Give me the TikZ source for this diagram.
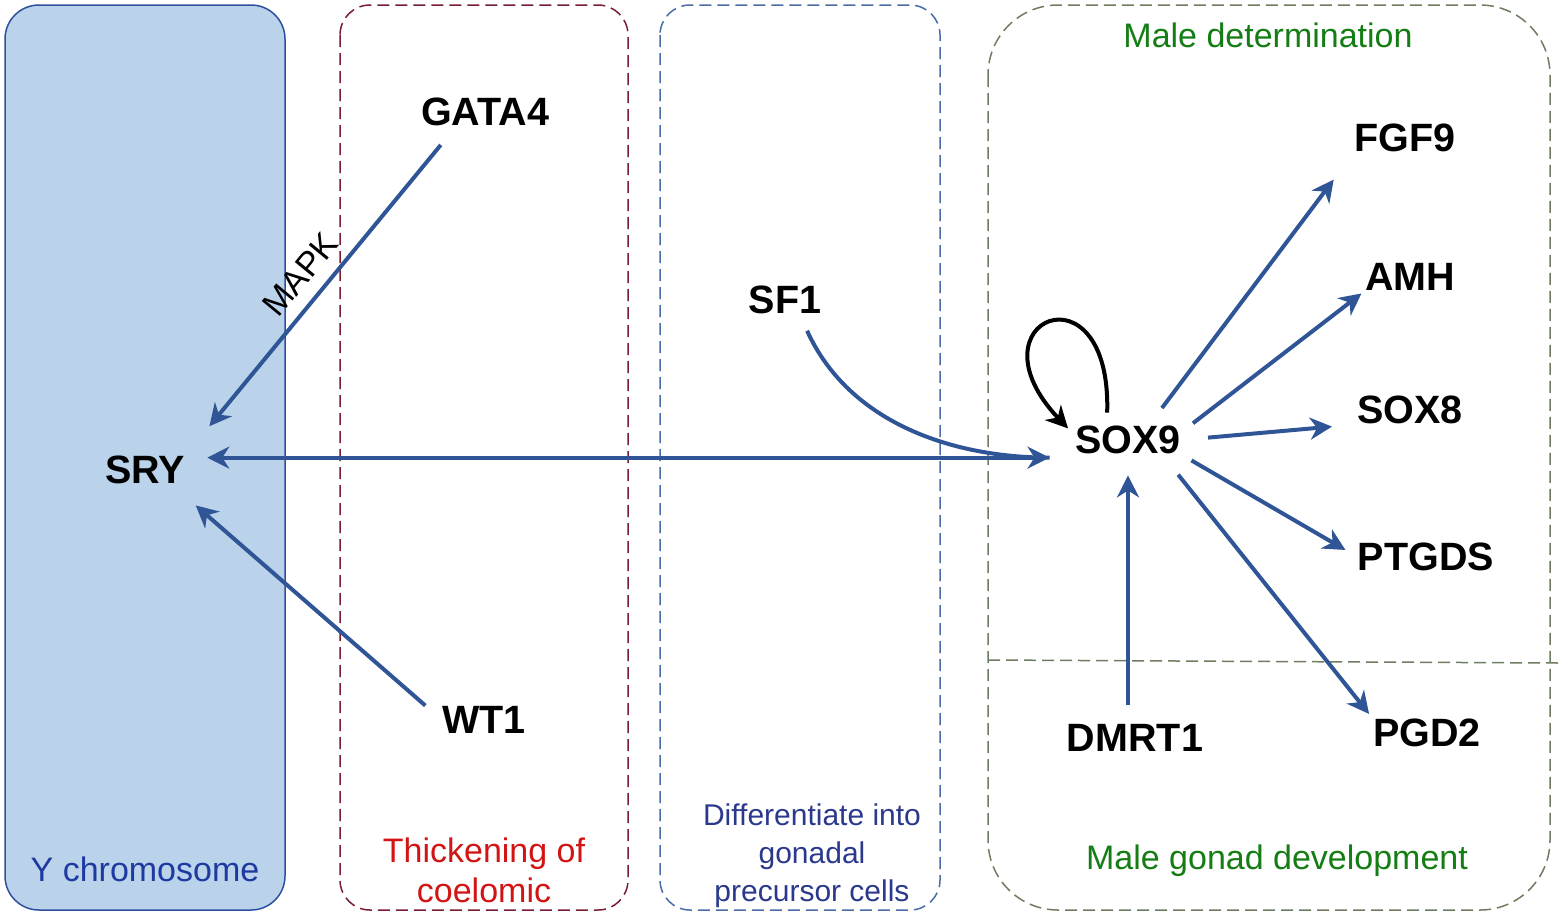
\documentclass[tikz,border=0pt]{standalone}
\usepackage{fontspec}
\setmainfont{Liberation Sans}
\usepackage{xcolor}
\usepackage{tikz}
\usetikzlibrary{arrows.meta}
\usetikzlibrary{shapes.geometric, calc}
\definecolor{bleuF}{RGB}{47,85,151}
\definecolor{bleuY}{RGB}{186,211,234}
\definecolor{bleuYb}{RGB}{46,79,160}
\definecolor{bleuT}{RGB}{30,58,160}
\definecolor{rougeC}{RGB}{120,30,50}
\definecolor{rougeT}{RGB}{210,20,20}
\definecolor{bleuC}{RGB}{74,108,168}
\definecolor{bleuD}{RGB}{43,57,140}
\definecolor{vertC}{RGB}{110,125,95}
\definecolor{vertT}{RGB}{20,125,20}

\begin{document}
\begin{tikzpicture}[x=0.5pt, y=-0.5pt,
    >={Stealth[length=11pt, width=11pt, inset=3.5pt]},
    gene/.style={font=\fontsize{19.75}{24}\selectfont\bfseries, inner sep=0pt},
    lbl/.style={font=\fontsize{17}{20}\selectfont, align=center},
    fleche/.style={line width=2pt, draw=bleuF, ->},
    cadre/.style={dash pattern=on 6pt off 3pt, line width=0.75pt}]
    \useasboundingbox (0,0) rectangle (1567,917);

    % Cadres des zones
    \draw[fill=bleuY, draw=bleuYb, line width=0.75pt, rounded corners=17pt] (5,5) rectangle (285,910);
    \draw[cadre, draw=rougeC, rounded corners=15pt] (340,5) rectangle (628,910);
    \draw[cadre, draw=bleuC, rounded corners=15pt] (660,5) rectangle (940,910);
    \draw[cadre, draw=vertC, rounded corners=35pt] (988,5) rectangle (1550,910);
    \draw[cadre, draw=vertC] (988,660) -- (1560,663);

    % Legendes des zones
    \node[lbl, text=bleuT] (ychr) at (145,869) {Y chromosome};
    \node[lbl, text=rougeT] (thick) at (484,870) {Thickening of\\coelomic};
    \node[lbl, font=\fontsize{15}{19}\selectfont, text=bleuD] (diff) at (812,856) {Differentiate into\\gonadal\\precursor cells};
    \node[lbl, text=vertT] (maledet) at (1268,35) {Male determination};
    \node[lbl, text=vertT] (malegon) at (1277,861) {Male gonad development};

    % Genes
    \node[gene] (gata4) at (485,112) {GATA4};
    \node[gene] (sry) at (145,470) {SRY};
    \node[gene] (wt1) at (484,720) {WT1};
    \node[gene] (sf1) at (785,300) {SF1};
    \node[gene] (sox9) at (1128,440) {SOX9};
    \node[gene] (dmrt1) at (1135,738) {DMRT1};
    \node[gene] (fgf9) at (1405,138) {FGF9};
    \node[gene] (amh) at (1410,277) {AMH};
    \node[gene] (sox8) at (1410,410) {SOX8};
    \node[gene] (ptgds) at (1426,557) {PTGDS};
    \node[gene] (pgd2) at (1427,733) {PGD2};

    % Vers SRY
    \draw[fleche, shorten <=12pt, shorten >=19pt] ($(gata4.south west)!0.55!(gata4.south)$) -- (sry.north east)
        node[pos=0.5, sloped, above=3pt, font=\fontsize{17}{20}\selectfont] {MAPK};
    \draw[fleche, shorten <=11pt, shorten >=16pt] (wt1.west) -- ($(sry.south)!0.66!(sry.south east)$);

    % SRY <-> SOX9 et SF1
    \coordinate (srygate) at ($(sry.east)!0.86!(sry.north east)$);
    \draw[fleche, <->, shorten <=11pt, shorten >=12.7pt] (srygate) -- (srygate -| sox9.west);
    \draw[line width=2pt, draw=bleuF, shorten <=9pt, shorten >=12.7pt] ($(sf1.south)!0.4!(sf1.south east)$)
        .. controls +(50,110) and +(-120,0) .. (srygate -| sox9.west);

    % Boucle de SOX9
    \draw[line width=2pt, ->, shorten <=6.5pt, shorten >=5pt] ($(sox9.north west)!0.6!(sox9.north)$)
        .. controls +(5,-166) and +(-110,-116) .. ($(sox9.north west)!0.7!(sox9.west)$);

    % Cibles de SOX9
    \draw[fleche, shorten <=11pt, shorten >=17pt] ($(sox9.north)!0.39!(sox9.north east)$) -- (fgf9.south west);
    \draw[fleche, shorten <=7.5pt, shorten >=2pt] ($(sox9.east)!0.53!(sox9.north east)$) -- (amh.south west);
    \draw[fleche, shorten <=13.5pt, shorten >=12.5pt] (sox9.east) -- (sox8.south west);
    \draw[fleche, shorten <=6pt, shorten >=7pt] (sox9.south east) -- (ptgds.west);
    \draw[fleche, shorten <=13pt, shorten >=3pt] ($(sox9.south)!0.64!(sox9.south east)$) -- (pgd2.north west);
    \draw[fleche, shorten <=9.5pt, shorten >=10.5pt] (sox9.south |- dmrt1.north) -- (sox9.south);
\end{tikzpicture}
\end{document}
